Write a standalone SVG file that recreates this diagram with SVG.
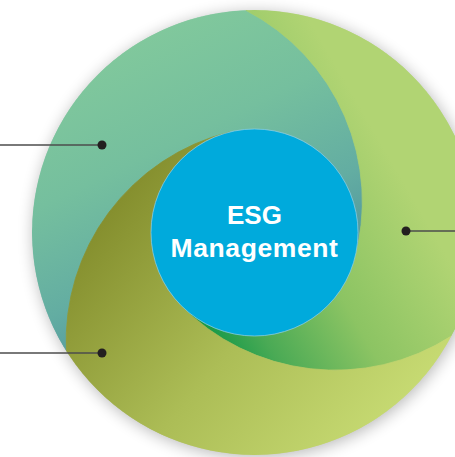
<svg xmlns="http://www.w3.org/2000/svg" width="455" height="457" viewBox="0 0 455 457">
  <style>
    .lead { stroke: #4d4d4d; stroke-width: 1.6; fill: none; }
    .dot { fill: #231f20; }
    .label { fill: #ffffff; font-family: "Liberation Sans", Arial, sans-serif; font-weight: bold; text-anchor: middle; }
    .seg { stroke-width: 0.8; stroke-linejoin: round; }
  </style>
  <defs>
    <filter id="shadow" x="-20%" y="-20%" width="140%" height="140%">
      <feGaussianBlur stdDeviation="8"/>
    </filter>
    <clipPath id="outerClip">
      <circle cx="254.5" cy="232.5" r="222.5"/>
    </clipPath>
    <linearGradient id="gTeal" gradientUnits="userSpaceOnUse" x1="150" y1="20" x2="300" y2="330">
      <stop offset="0" stop-color="#82c99c"/>
      <stop offset="0.35" stop-color="#75bf9e"/>
      <stop offset="0.65" stop-color="#63ada2"/>
      <stop offset="1" stop-color="#46879a"/>
    </linearGradient>
    <linearGradient id="gGreen" gradientUnits="userSpaceOnUse" x1="420" y1="210" x2="205" y2="335">
      <stop offset="0" stop-color="#b1d473"/>
      <stop offset="0.45" stop-color="#8cc463"/>
      <stop offset="0.8" stop-color="#4aaa55"/>
      <stop offset="1" stop-color="#129847"/>
    </linearGradient>
    <linearGradient id="gOlive" gradientUnits="userSpaceOnUse" x1="110" y1="210" x2="390" y2="440">
      <stop offset="0" stop-color="#858f2e"/>
      <stop offset="0.5" stop-color="#acbd56"/>
      <stop offset="1" stop-color="#c8dc74"/>
    </linearGradient>
  </defs>

  <rect width="455" height="457" fill="#ffffff"/>
  <circle cx="256" cy="235" r="222.5" fill="#000" opacity="0.28" filter="url(#shadow)"/>

  <g id="ring" clip-path="url(#outerClip)">
    <g id="segment-teal">
      <path class="seg" fill="url(#gTeal)" stroke="url(#gTeal)" d="M353.99 261.03 A103.5 103.5 0 0 0 229.46 132.07 A215.5 215.5 0 0 0 66.36 351.29 A222.5 222.5 0 0 1 245.73 10.17 A215.5 215.5 0 0 1 353.99 261.03 Z"/>
    </g>
    <g id="segment-green">
      <path class="seg" fill="url(#gGreen)" stroke="url(#gGreen)" d="M180.05 304.40 A103.5 103.5 0 0 0 353.99 261.03 A215.5 215.5 0 0 0 245.73 10.17 A222.5 222.5 0 0 1 451.43 336.06 A215.5 215.5 0 0 1 180.05 304.40 Z"/>
    </g>
    <g id="segment-olive">
      <path class="seg" fill="url(#gOlive)" stroke="url(#gOlive)" d="M229.46 132.07 A103.5 103.5 0 0 0 180.05 304.40 A215.5 215.5 0 0 0 451.43 336.06 A222.5 222.5 0 0 1 66.36 351.29 A215.5 215.5 0 0 1 229.46 132.07 Z"/>
    </g>
  </g>

  <g id="center">
    <circle cx="254.5" cy="232.5" r="103.5" fill="#00aadc" stroke="#8fd0e6" stroke-width="0.7"/>
    <text class="label" x="254.5" y="224" font-size="26">ESG</text>
    <text class="label" x="254.5" y="256.5" font-size="26.5" letter-spacing="0.6">Management</text>
  </g>

  <g id="connectors">
    <line class="lead" x1="0" y1="145" x2="102" y2="145"/>
    <circle class="dot" cx="102" cy="145" r="4.5"/>
    <line class="lead" x1="0" y1="353" x2="102" y2="353"/>
    <circle class="dot" cx="102" cy="353" r="4.5"/>
    <line class="lead" x1="406" y1="231" x2="455" y2="231"/>
    <circle class="dot" cx="406" cy="231" r="4.5"/>
  </g>
</svg>
